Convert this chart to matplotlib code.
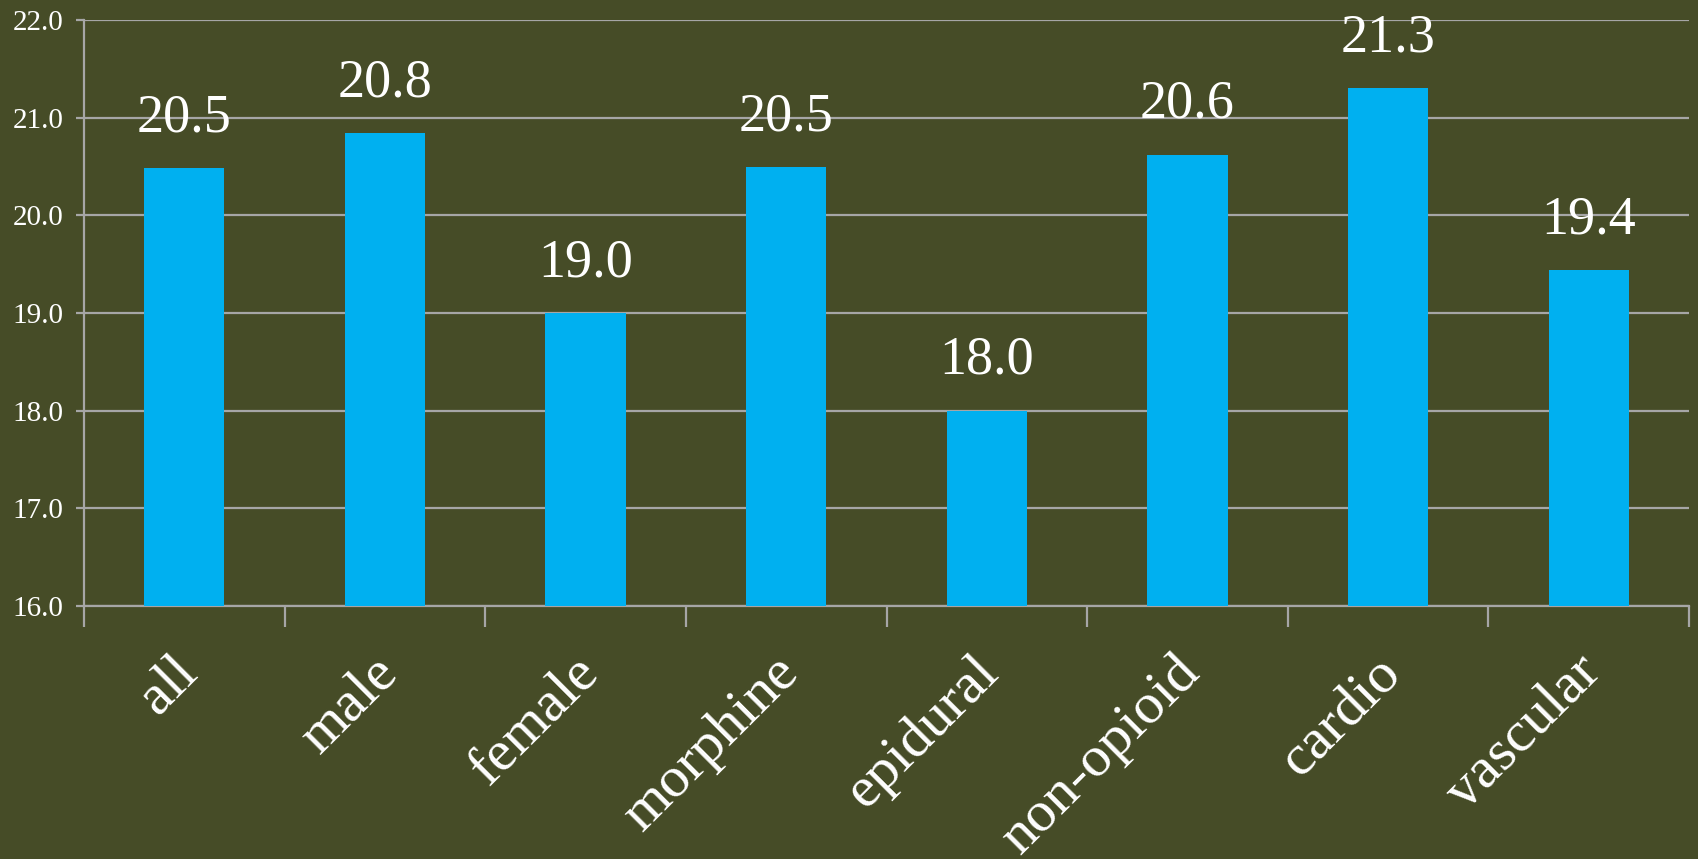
import matplotlib
matplotlib.use("Agg")
import matplotlib.pyplot as plt
from matplotlib.transforms import ScaledTranslation
import numpy as np

categories = ["all", "male", "female", "morphine", "epidural", "non-opioid", "cardio", "vascular"]
values = [20.48, 20.84, 19.0, 20.49, 18.0, 20.62, 21.30, 19.44]
yticks = [16.0, 17.0, 18.0, 19.0, 20.0, 21.0, 22.0]

BG = "#464C27"
BAR = "#00B0F0"
GRID = "#A6A6A6"
FONT = ["Liberation Serif", "DejaVu Serif"]

plt.rcParams['font.family'] = FONT

fig = plt.figure(figsize=(16.98, 8.59), dpi=100, facecolor=BG)
ax = fig.add_axes([0.0495, 0.2945, 0.9452, 0.6822])
ax.set_facecolor(BG)

x = np.arange(len(categories))
ax.bar(x, values, width=0.4, color=BAR, zorder=3, bottom=0)
ax.set_ylim(16, 22)
ax.set_xlim(-0.5, len(categories) - 0.5)

ax.set_yticks(yticks)
ax.set_yticklabels([f"{v:.1f}" for v in yticks], color="white", fontsize=21)
ax.yaxis.grid(True, color=GRID, linewidth=1.6, zorder=1)
ax.tick_params(axis='y', length=6, width=1.6, color=GRID, pad=9)

ax.set_xticks(np.arange(len(categories) + 1) - 0.5)
ax.set_xticklabels([])
ax.tick_params(axis='x', length=15, width=1.6, color=GRID)

for s in ["top", "right"]:
    ax.spines[s].set_visible(False)
for s in ["left", "bottom"]:
    ax.spines[s].set_color(GRID)
    ax.spines[s].set_linewidth(1.6)

for xi, v in zip(x, values):
    ax.annotate(f"{v:.1f}", xy=(xi, v), xytext=(0, 18), textcoords="offset points",
                ha="center", va="bottom", color="white", fontsize=39, zorder=4)

off = ScaledTranslation(0.0, -0.54, fig.dpi_scale_trans)
trans = ax.get_xaxis_transform() + off
for xi, c in zip(x, categories):
    ax.text(xi, 0, c, transform=trans, rotation=45, rotation_mode="anchor",
            ha="right", va="center_baseline", color="white", fontsize=42)

fig.savefig("out.png", dpi=100, facecolor=BG)
